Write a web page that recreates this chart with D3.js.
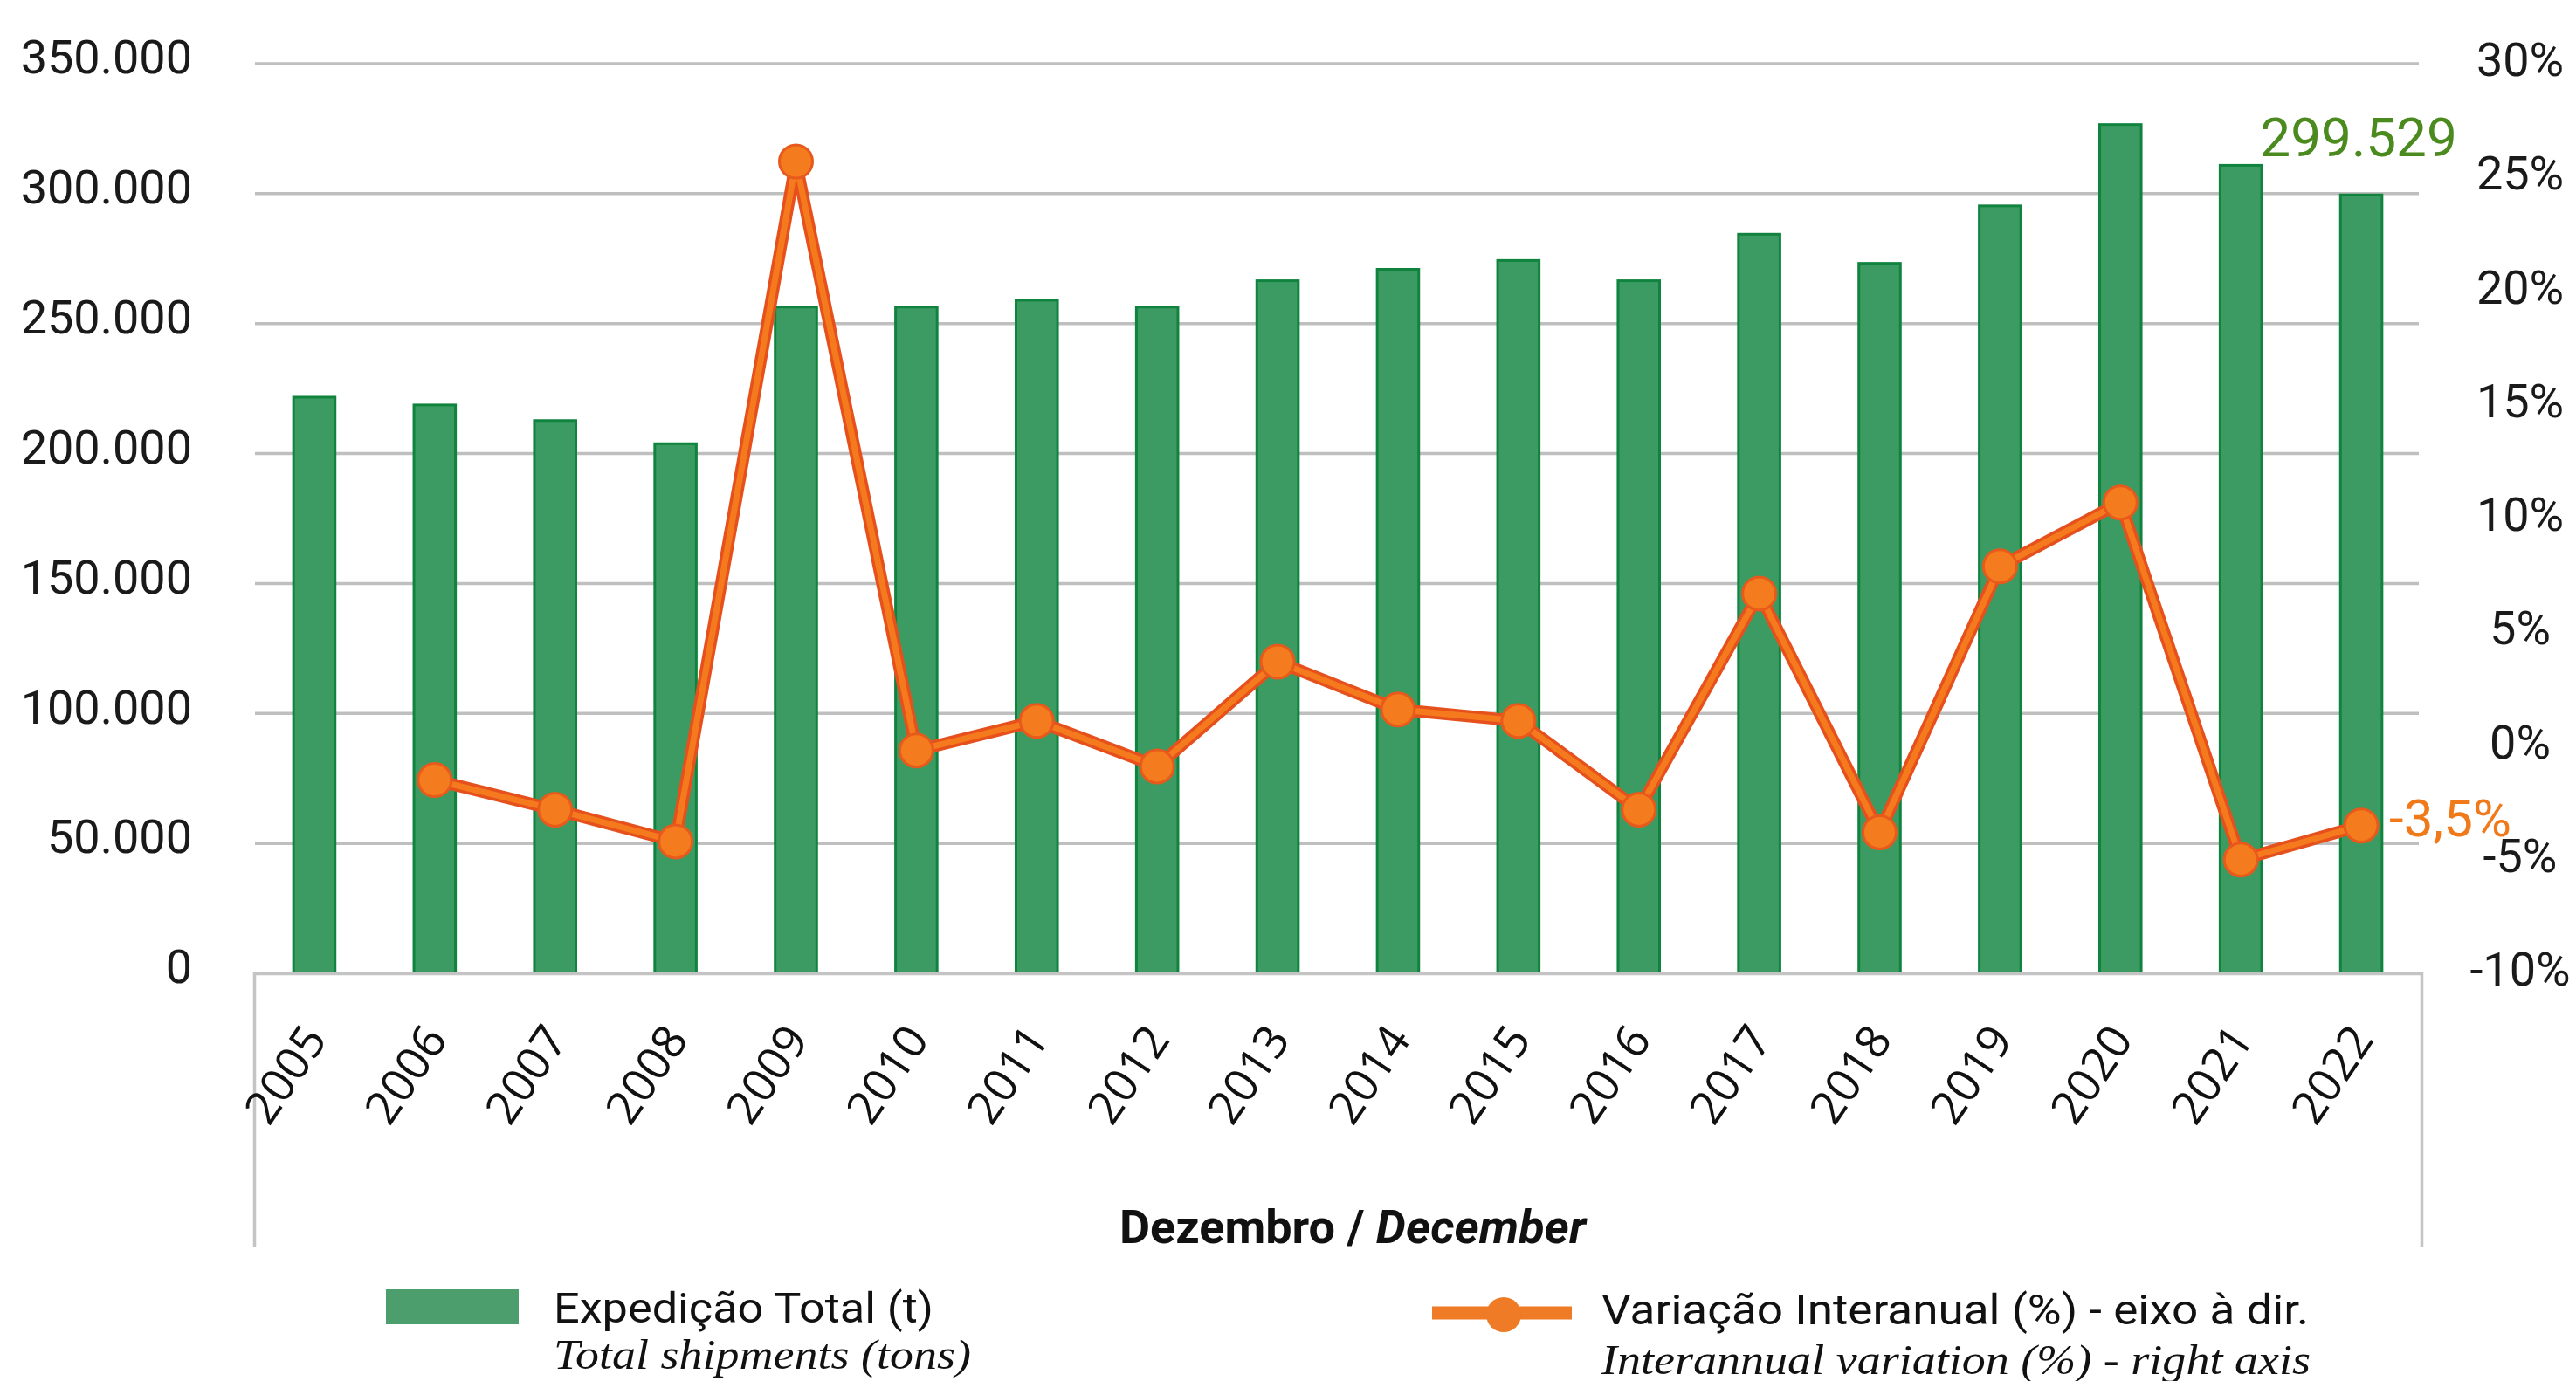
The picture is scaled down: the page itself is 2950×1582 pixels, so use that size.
<!DOCTYPE html>
<html>
<head>
<meta charset="utf-8">
<script src="https://cdn.jsdelivr.net/npm/d3@7"></script>
<style>
  body { margin: 0; background: #fff; }
  svg { display: block; }
</style>
</head>
<body>
<div id="chart"></div>
<script>
// values
var years = ["2005", "2006", "2007", "2008", "2009", "2010", "2011", "2012", "2013",
             "2014", "2015", "2016", "2017", "2018", "2019", "2020", "2021", "2022"];
var shipments = [221700, 218700, 212700, 203800, 256400, 256400, 259000, 256400, 266500,
                 270900, 274300, 266500, 284400, 273200, 295300, 326600, 310900, 299529];
var variation = [null, -1.5, -2.8, -4.2, 25.7, -0.2, 1.1, -0.9, 3.7,
                 1.6, 1.1, -2.8, 6.7, -3.8, 7.9, 10.7, -5.0, -3.5];
var leftTicks = [0, 50000, 100000, 150000, 200000, 250000, 300000, 350000];
var rightTicks = [-10, -5, 0, 5, 10, 15, 20, 25, 30];
var lastShipLabel = "299.529";
var lastVarLabel = "-3,5%";

var W = 2950, H = 1582;
var margin = {top: 73, left: 291, right: 2773, bottom: 1115};

var svg = d3.select("#chart").append("svg").attr("width", W).attr("height", H);
svg.append("rect").attr("width", W).attr("height", H).attr("fill", "#fff");

var x = d3.scaleBand().domain(years).range([margin.left, margin.right])
  .paddingInner(0.655).paddingOuter(0.3275);
var yL = d3.scaleLinear().domain([0, 350000]).range([margin.bottom, margin.top]);
var yR = d3.scaleLinear().domain([-10, 30]).range([margin.bottom, margin.top]);

var ptBR = d3.formatLocale({decimal: ",", thousands: ".", grouping: [3], currency: ["", ""]});
var fmt = ptBR.format(",d");

// gridlines from the left axis
svg.append("g").selectAll("line").data(leftTicks.slice(1)).join("line")
  .attr("x1", margin.left + 1).attr("x2", margin.right - 3)
  .attr("y1", function(d) { return yL(d); }).attr("y2", function(d) { return yL(d); })
  .attr("stroke", "#bfbfbf").attr("stroke-width", 3.5);

// left axis
var gl = svg.append("g").attr("transform", "translate(220,0)")
  .call(d3.axisLeft(yL).tickValues(leftTicks).tickFormat(fmt).tickSize(0).tickPadding(0));
gl.select(".domain").remove();
gl.selectAll("text").attr("font-family", "Roboto, sans-serif").attr("font-size", 54)
  .attr("fill", "#1a1a1a").attr("dy", "0.2em");

// right axis
var gr = svg.append("g").attr("transform", "translate(2886,0)")
  .call(d3.axisRight(yR).tickValues(rightTicks).tickFormat(function(d) { return d + "%"; })
    .tickSize(0).tickPadding(0));
gr.select(".domain").remove();
gr.selectAll("text").attr("font-family", "Roboto, sans-serif").attr("font-size", 54)
  .attr("fill", "#1a1a1a").attr("text-anchor", "middle").attr("dy", "0.25em");

// bars
svg.append("g").selectAll("rect").data(shipments).join("rect")
  .attr("x", function(d, i) { return x(years[i]); })
  .attr("width", x.bandwidth())
  .attr("y", function(d) { return yL(d); })
  .attr("height", function(d) { return yL(0) - yL(d); })
  .attr("fill", "#3c9b63").attr("stroke", "#10843e").attr("stroke-width", 3);

// category axis (box-style outer ticks)
var gx = svg.append("g").attr("transform", "translate(0," + margin.bottom + ")")
  .call(d3.axisBottom(x).tickSizeInner(0).tickSizeOuter(313).tickPadding(0));
gx.select(".domain").attr("stroke", "#c4c4c4").attr("stroke-width", 3.5);
gx.selectAll(".tick text")
  .attr("font-family", "'Open Sans', sans-serif").attr("font-size", 53).attr("fill", "#111")
  .attr("text-anchor", "end").attr("dy", 0).attr("y", 0)
  .attr("transform", "translate(16,76) rotate(-56)");

// variation line
var line = d3.line()
  .defined(function(d) { return d != null; })
  .x(function(d, i) { return x(years[i]) + x.bandwidth() / 2; })
  .y(function(d) { return yR(d); });

svg.append("path").datum(variation).attr("d", line)
  .attr("fill", "none").attr("stroke", "#e6501c").attr("stroke-width", 14)
  .attr("stroke-linejoin", "round");
svg.append("path").datum(variation).attr("d", line)
  .attr("fill", "none").attr("stroke", "#f47a1d").attr("stroke-width", 7)
  .attr("stroke-linejoin", "round");

svg.append("g").selectAll("circle")
  .data(variation.map(function(d, i) { return {v: d, i: i}; }).filter(function(d) { return d.v != null; }))
  .join("circle")
  .attr("cx", function(d) { return x(years[d.i]) + x.bandwidth() / 2; })
  .attr("cy", function(d) { return yR(d.v); })
  .attr("r", 19)
  .attr("fill", "#f47b1e").attr("stroke", "#e85a1c").attr("stroke-width", 3);

// end labels
var lastI = years.length - 1;
svg.append("text")
  .attr("x", x(years[lastI]) + x.bandwidth() / 2 - 3)
  .attr("y", yL(shipments[lastI]) - 44)
  .attr("text-anchor", "middle")
  .attr("font-family", "Roboto, sans-serif").attr("font-size", 62).attr("fill", "#4b8a1f")
  .text(lastShipLabel);
svg.append("text")
  .attr("x", x(years[lastI]) + x.bandwidth() / 2 + 32)
  .attr("y", yR(variation[lastI]) + 12)
  .attr("font-family", "Roboto, sans-serif").attr("font-size", 60).attr("fill", "#f07a1a")
  .text(lastVarLabel);

// axis title
var title = svg.append("text")
  .attr("x", 1549).attr("y", 1424).attr("text-anchor", "middle")
  .attr("font-family", "Roboto, sans-serif").attr("font-size", 54).attr("font-weight", "bold")
  .attr("fill", "#111");
title.append("tspan").text("Dezembro / ");
title.append("tspan").attr("font-style", "italic").text("December");

// legend
svg.append("rect").attr("x", 442).attr("y", 1477).attr("width", 152).attr("height", 40)
  .attr("fill", "#4c9f6c");
svg.append("text").attr("x", 634).attr("y", 1515)
  .attr("font-family", "Roboto, sans-serif").attr("font-size", 49).attr("fill", "#111")
  .attr("textLength", 435).attr("lengthAdjust", "spacingAndGlyphs")
  .text("Expedição Total (t)");
svg.append("text").attr("x", 634).attr("y", 1568)
  .attr("font-family", "'Liberation Serif', serif").attr("font-style", "italic")
  .attr("font-size", 49).attr("fill", "#111")
  .attr("textLength", 478).attr("lengthAdjust", "spacingAndGlyphs")
  .text("Total shipments (tons)");

svg.append("line").attr("x1", 1640).attr("x2", 1800).attr("y1", 1504).attr("y2", 1504)
  .attr("stroke", "#ef7b27").attr("stroke-width", 15);
svg.append("circle").attr("cx", 1722).attr("cy", 1506).attr("r", 20).attr("fill", "#ef7b27");
svg.append("text").attr("x", 1834).attr("y", 1517)
  .attr("font-family", "Roboto, sans-serif").attr("font-size", 49).attr("fill", "#111")
  .attr("textLength", 810).attr("lengthAdjust", "spacingAndGlyphs")
  .text("Variação Interanual (%) - eixo à dir.");
svg.append("text").attr("x", 1834).attr("y", 1574)
  .attr("font-family", "'Liberation Serif', serif").attr("font-style", "italic")
  .attr("font-size", 49).attr("fill", "#111")
  .attr("textLength", 812).attr("lengthAdjust", "spacingAndGlyphs")
  .text("Interannual variation (%) - right axis");
</script>
</body>
</html>
